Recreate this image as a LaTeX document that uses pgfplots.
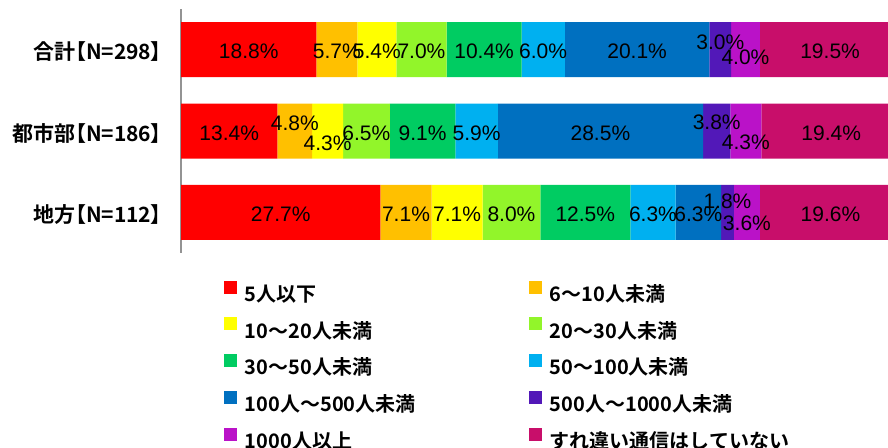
\documentclass[border=0pt]{standalone}
\usepackage{fontspec}
\usepackage{pgfplots}
\pgfplotsset{compat=1.18}
\setmainfont{Liberation Sans}
\newfontfamily\jp{Noto Sans CJK JP}[BoldFont={Noto Sans CJK JP Bold}]
\newfontfamily\jpp{Noto Sans CJK JP}[BoldFont={Noto Sans CJK JP Bold},RawFeature=+palt]
\definecolor{c1}{HTML}{FF0000}
\definecolor{c2}{HTML}{FFC000}
\definecolor{c3}{HTML}{FFFF00}
\definecolor{c4}{HTML}{92F52A}
\definecolor{c5}{HTML}{00CC62}
\definecolor{c6}{HTML}{00B0F0}
\definecolor{c7}{HTML}{0070C0}
\definecolor{c8}{HTML}{5218B8}
\definecolor{c9}{HTML}{BA12C8}
\definecolor{c10}{HTML}{C80E6A}
\pgfplotsset{
  sq/.style={fill=#1, draw=none, legend image code/.code={\fill[#1] (0pt,1.6pt) rectangle (13pt,14.6pt);}},
}
\begin{document}
\begin{tikzpicture}
\useasboundingbox (0,0) rectangle (888pt,-447pt);
\clip (0,0) rectangle (888pt,-447pt);
\begin{axis}[
  at={(181pt,-9pt)}, anchor=north west,
  scale only axis, width=720pt, height=244pt,
  xmin=0, xmax=100, ymin=-0.5, ymax=2.5, y dir=reverse,
  xbar stacked, bar width=55pt,
  axis x line=none, axis y line*=left,
  y axis line style={color=gray!85, line width=1.5pt},
  ytick={0,1,2},
  yticklabels={合計【N=298】,都市部【N=186】,地方【N=112】},
  major tick length=0pt,
  yticklabel style={font=\jpp\bfseries\fontsize{21}{21}\selectfont, inner sep=0pt, xshift=-19pt, yshift=-2pt},
  legend columns=2,
  legend cell align=left,
  legend style={draw=none, fill=none, inner sep=0pt, outer sep=0pt,
    at={(0.0597,-0.113)}, anchor=north west,
    nodes={inner sep=0pt, text height=16pt, text depth=4pt, font=\jp\bfseries\fontsize{20}{20}\selectfont},
    row sep=12.3pt,
    /tikz/every odd column/.append style={column sep=8pt}},
]
\addplot[sq=c1] coordinates {(18.8,0) (13.4,1) (27.7,2)};
\addplot[sq=c2] coordinates {(5.7,0) (4.8,1) (7.1,2)};
\addplot[sq=c3] coordinates {(5.4,0) (4.3,1) (7.1,2)};
\addplot[sq=c4] coordinates {(7.0,0) (6.5,1) (8.0,2)};
\addplot[sq=c5] coordinates {(10.4,0) (9.1,1) (12.5,2)};
\addplot[sq=c6] coordinates {(6.0,0) (5.9,1) (6.3,2)};
\addplot[sq=c7] coordinates {(20.1,0) (28.5,1) (6.3,2)};
\addplot[sq=c8] coordinates {(3.0,0) (3.8,1) (1.8,2)};
\addplot[sq=c9] coordinates {(4.0,0) (4.3,1) (3.6,2)};
\addplot[sq=c10] coordinates {(19.5,0) (19.4,1) (19.6,2)};
\addlegendentry{\makebox[284pt][l]{5人以下}}
\addlegendentry{6～10人未満}
\addlegendentry{\makebox[284pt][l]{10～20人未満}}
\addlegendentry{20～30人未満}
\addlegendentry{\makebox[284pt][l]{30～50人未満}}
\addlegendentry{50～100人未満}
\addlegendentry{\makebox[284pt][l]{100人～500人未満}}
\addlegendentry{500人～1000人未満}
\addlegendentry{\makebox[284pt][l]{1000人以上}}
\addlegendentry{すれ違い通信はしていない}
\end{axis}
\begin{axis}[
  at={(181pt,-9pt)}, anchor=north west,
  scale only axis, width=720pt, height=244pt,
  xmin=0, xmax=100, ymin=-0.5, ymax=2.5, y dir=reverse,
  hide axis,
  /pgf/number format/assume math mode=true,
]
\addplot[only marks, mark=*, mark size=0pt, mark options={draw=none, fill=none},
  point meta=explicit,
  nodes near coords={\pgfmathprintnumber[fixed,fixed zerofill,precision=1,assume math mode=true]{\pgfplotspointmeta}\%},
  nodes near coords align=center,
  every node near coord/.append style={anchor=center, inner sep=0pt, yshift=-2pt, font=\fontsize{21}{21}\selectfont, text=black},
] table[x=x, y=y, meta=v] {
x      y       v
9.4    0       18.8
21.65  0       5.7
27.2   0       5.4
33.4   0       7.0
42.1   0       10.4
50.3   0       6.0
63.35  0       20.1
74.9   -0.11   3.0
78.4   0.068   4.0
90.15  0       19.5
6.7    1       13.4
15.8   0.877   4.8
20.35  1.123   4.3
25.75  1       6.5
33.55  1       9.1
41.05  1       5.9
58.25  1       28.5
74.4   0.871   3.8
78.45  1.11    4.3
90.3   1       19.4
13.85  2       27.7
31.25  2       7.1
38.35  2       7.1
45.9   2       8.0
56.15  2       12.5
65.55  2       6.3
71.85  2       6.3
75.9   1.84    1.8
78.6   2.105   3.6
90.2   2       19.6
};
\end{axis}
\end{tikzpicture}
\end{document}
